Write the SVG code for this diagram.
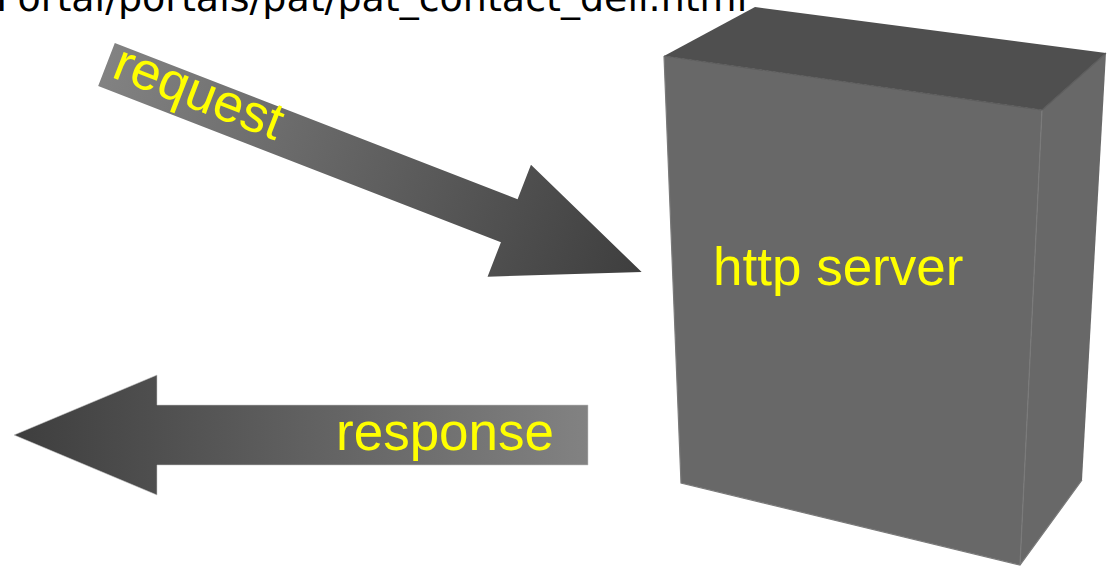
<svg xmlns="http://www.w3.org/2000/svg" width="1116" height="566" viewBox="0 0 1116 566">
  <style>
    .label { font-family: "Liberation Sans", Arial, sans-serif; font-size: 53px; fill: #ffff00; }
    .path-title { font-family: "DejaVu Sans", "Liberation Sans", sans-serif; font-size: 38px; fill: #000000; }
    .edge { fill: none; stroke: #7a7a7a; stroke-width: 1.2; }
  </style>
  <defs>
    <linearGradient id="gradOut" x1="0" y1="0" x2="1" y2="0">
      <stop offset="0" stop-color="#828282"/>
      <stop offset="1" stop-color="#3e3e3e"/>
    </linearGradient>
    <linearGradient id="gradBack" x1="0" y1="0" x2="1" y2="0">
      <stop offset="0" stop-color="#3e3e3e"/>
      <stop offset="1" stop-color="#828282"/>
    </linearGradient>
  </defs>

  <rect width="1116" height="566" fill="#ffffff"/>

  <!-- URL line, running off the top edge -->
  <text class="path-title" x="-4" y="11">Portal/portals/pat/pat_contact_deil.html</text>

  <!-- server box -->
  <g id="server">
    <polygon points="664,56 755,7 1106,53 1042,110" fill="#4f4f4f"/>
    <polygon points="664,56 1042,110 1020,565 681,483" fill="#686868"/>
    <polygon points="1042,110 1106,53 1082,480 1020,565" fill="#686868"/>
    <polyline class="edge" points="664,56 681,483 1020,565 1082,480"/>
    <line class="edge" x1="1042" y1="110" x2="1020" y2="565"/>
    <line x1="664" y1="56" x2="1042" y2="110" stroke="#5c5c5c" stroke-width="1.2"/>
    <line x1="1042" y1="110" x2="1106" y2="53" stroke="#5c5c5c" stroke-width="1.2"/>
    <text class="label" x="713" y="285">http server</text>
  </g>

  <!-- connectors -->
  <g id="connectors">
    <g id="request" transform="translate(106.5,64.5) rotate(21.2)">
      <polygon points="0,-23 432,-23 432,-60 574,0 432,60 432,23 0,23" fill="url(#gradOut)"/>
      <text class="label" x="8" y="10">request</text>
    </g>
    <g id="response">
      <polygon points="588,405 157,405 157,375 14,435 157,495 157,465 588,465" fill="url(#gradBack)" stroke="#c8c8c8" stroke-width="0.8" stroke-opacity="0.7"/>
      <text class="label" x="336" y="450">response</text>
    </g>
  </g>
</svg>
